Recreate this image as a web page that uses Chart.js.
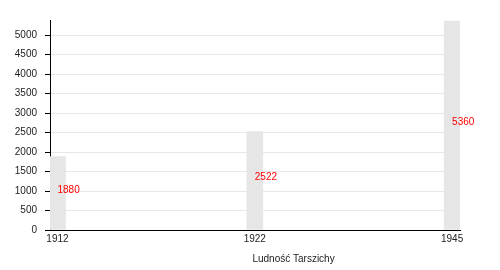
<!DOCTYPE html>
<html><head><meta charset="utf-8">
<script src="https://cdn.jsdelivr.net/npm/chart.js@4/dist/chart.umd.min.js"></script>
<style>html,body{margin:0;padding:0;background:#fff}#wrap{width:500px;height:270px}</style>
</head><body><div id="wrap"><canvas id="c" width="500" height="270"></canvas></div>
<script>
const years = ['1912', '1922', '1945'];
const population = [1880, 2522, 5360];
const yTicks = [0, 500, 1000, 1500, 2000, 2500, 3000, 3500, 4000, 4500, 5000];
const axisTitle = 'Ludność Tarszichy';

Chart.defaults.font.family = '"Liberation Sans", Arial, sans-serif';
Chart.defaults.font.size = 10;
Chart.defaults.color = '#222';

const valueLabels = {
  id: 'valueLabels',
  afterDatasetsDraw(chart) {
    const ctx = chart.ctx;
    const meta = chart.getDatasetMeta(0);
    ctx.save();
    ctx.font = '10px "Liberation Sans", Arial, sans-serif';
    ctx.fillStyle = '#f00';
    ctx.textAlign = 'left';
    ctx.textBaseline = 'middle';
    meta.data.forEach((bar, i) => {
      ctx.fillText(String(population[i]), bar.x, (bar.y + bar.base) / 2 - 3);
    });
    ctx.restore();
  },
  afterDraw(chart) {
    const ctx = chart.ctx;
    const a = chart.chartArea;
    ctx.save();
    ctx.font = '10px "Liberation Sans", Arial, sans-serif';
    ctx.fillStyle = '#222';
    ctx.textAlign = 'center';
    ctx.textBaseline = 'middle';
    ctx.fillText(axisTitle, a.left + (a.right - a.left) * 0.594, a.bottom + 29);
    ctx.restore();
  }
};

new Chart(document.getElementById('c'), {
  type: 'bar',
  data: {
    datasets: [{
      data: population.map((v, i) => ({ x: i, y: v })),
      backgroundColor: '#e6e6e6',
      borderWidth: 0,
      barThickness: 16
    }]
  },
  options: {
    responsive: false,
    animation: false,
    layout: { padding: { left: 14, top: 20, right: 40, bottom: 0 } },
    plugins: { legend: { display: false }, tooltip: { enabled: false } },
    scales: {
      x: {
        type: 'linear',
        offset: false,
        min: -0.038,
        max: 2.04,
        afterBuildTicks: s => { s.ticks = years.map((_, i) => ({ value: i })); },
        afterFit: s => { s.height = 40; },
        ticks: { callback: (v) => years[v], padding: 3, maxRotation: 0, autoSkip: false },
        grid: { display: false, drawTicks: false, offset: false },
        border: { display: true, color: '#000', width: 1 }
      },
      y: {
        min: 0,
        max: 5385,
        ticks: { padding: 8, autoSkip: false, callback: v => String(v) },
        afterBuildTicks: s => { s.ticks = yTicks.map(v => ({ value: v })); },
        afterFit: s => { s.width = 36; },
        grid: { color: '#e8e8e8', tickColor: '#000', tickLength: 5 },
        border: { display: true, color: '#000', width: 1 }
      }
    }
  },
  plugins: [valueLabels]
});
</script></body></html>
